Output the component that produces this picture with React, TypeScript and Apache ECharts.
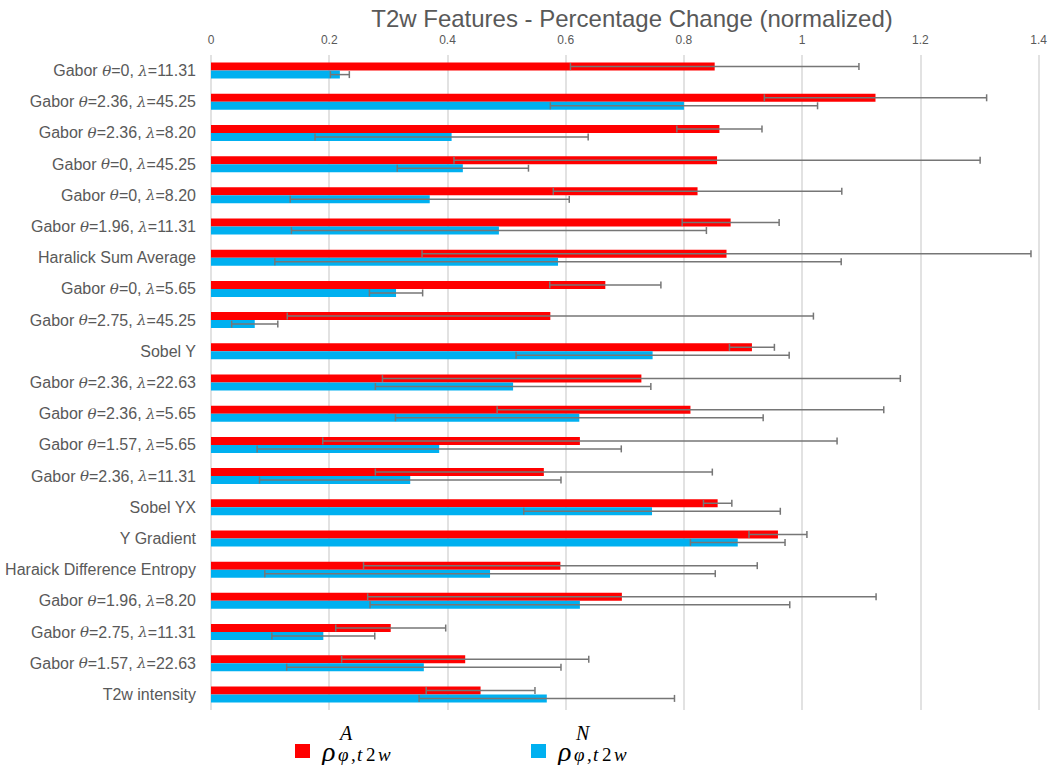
import React, { useEffect, useRef } from "react";
import * as echarts from "echarts";

const categories = [
  "Gabor θ=0, λ=11.31",
  "Gabor θ=2.36, λ=45.25",
  "Gabor θ=2.36, λ=8.20",
  "Gabor θ=0, λ=45.25",
  "Gabor θ=0, λ=8.20",
  "Gabor θ=1.96, λ=11.31",
  "Haralick Sum Average",
  "Gabor θ=0, λ=5.65",
  "Gabor θ=2.75, λ=45.25",
  "Sobel Y",
  "Gabor θ=2.36, λ=22.63",
  "Gabor θ=2.36, λ=5.65",
  "Gabor θ=1.57, λ=5.65",
  "Gabor θ=2.36, λ=11.31",
  "Sobel YX",
  "Y Gradient",
  "Haraick Difference Entropy",
  "Gabor θ=1.96, λ=8.20",
  "Gabor θ=2.75, λ=11.31",
  "Gabor θ=1.57, λ=22.63",
  "T2w intensity",
];

const rhoA = [0.852, 1.124, 0.86, 0.856, 0.823, 0.879, 0.872, 0.667, 0.574, 0.915, 0.728, 0.811, 0.624, 0.563, 0.857, 0.959, 0.591, 0.695, 0.304, 0.43, 0.456];
const rhoAErr = [0.244, 0.188, 0.072, 0.445, 0.244, 0.082, 0.515, 0.094, 0.445, 0.038, 0.438, 0.327, 0.435, 0.285, 0.024, 0.049, 0.333, 0.43, 0.093, 0.209, 0.092];
const rhoN = [0.218, 0.8, 0.407, 0.426, 0.37, 0.487, 0.587, 0.313, 0.074, 0.747, 0.511, 0.623, 0.386, 0.337, 0.746, 0.891, 0.472, 0.624, 0.19, 0.36, 0.568];
const rhoNErr = [0.016, 0.226, 0.231, 0.111, 0.236, 0.351, 0.479, 0.045, 0.039, 0.231, 0.233, 0.311, 0.308, 0.255, 0.217, 0.08, 0.381, 0.355, 0.087, 0.232, 0.216];

const xTicks = { min: 0, max: 1.4, interval: 0.2 };

// legend label pieces: superscripts and subscript glyphs
const supA = "A";
const supN = "N";
const subPieces = ["φ", ",", "t", "2", "w"];

const RED = "#FF0000";
const BLUE = "#00B0F0";
const GRAY = "#595959";
const ERR = "#767676";

function errData(vals: number[], errs: number[]) {
  return vals.map((v, i) => [i, v - errs[i], v + errs[i]]);
}

function makeErrRender(offset: number) {
  return (params: any, api: any) => {
    const idx = api.value(0);
    const a = api.coord([api.value(1), idx]);
    const b = api.coord([api.value(2), idx]);
    const y = a[1] + offset;
    const cap = 3.5;
    const style = { stroke: ERR, lineWidth: 1.5 };
    return {
      type: "group",
      children: [
        { type: "line", shape: { x1: a[0], y1: y, x2: b[0], y2: y }, style },
        { type: "line", shape: { x1: a[0], y1: y - cap, x2: a[0], y2: y + cap }, style },
        { type: "line", shape: { x1: b[0], y1: y - cap, x2: b[0], y2: y + cap }, style },
      ],
    };
  };
}

function labelFmt(v: string) {
  return v.replace(/θ/g, "{i|θ}").replace(/λ/g, "{i|λ}");
}

function legendLabel(x0: number, sup: string) {
  const subX = [0, 13, 19, 28, 40];
  const els: any[] = [
    { type: "text", left: x0 + 45, top: 723, style: { text: sup, font: "italic 20px 'Liberation Serif'", fill: "#000" } },
  ];
  subPieces.forEach((p, k) => {
    els.push({
      type: "text",
      left: x0 + 43 + subX[k],
      top: 745,
      style: {
        text: p,
        font: (p === "2" || p === "," ? "" : "italic ") + "19px 'Liberation Serif'",
        fill: "#000",
      },
    });
  });
  return els;
}

export default function App() {
  const ref = useRef<HTMLDivElement>(null);
  useEffect(() => {
    if (!ref.current) return;
    const chart = echarts.init(ref.current, undefined, { renderer: "svg" });
    const legendBase = {
      icon: "rect",
      itemWidth: 15,
      itemHeight: 14,
      top: 737,
      itemGap: 0,
      padding: 0,
      selectedMode: false,
      formatter: () => "ρ",
      textStyle: {
        fontFamily: "Liberation Serif",
        fontStyle: "italic",
        fontSize: 28,
        lineHeight: 28,
        color: "#000",
        padding: [0, 0, 0, 7],
      },
    };
    chart.setOption({
      animation: false,
      title: {
        text: "T2w Features - Percentage Change (normalized)",
        left: 627,
        textAlign: "center",
        top: 1,
        textStyle: {
          fontFamily: "Liberation Sans",
          fontWeight: "normal",
          fontSize: 24,
          color: GRAY,
        },
      },
      grid: { left: 211, right: 10, top: 55, bottom: 55 },
      legend: [
        { ...legendBase, data: ["rhoA"], left: 295 },
        { ...legendBase, data: ["rhoN"], left: 531 },
      ],
      xAxis: {
        type: "value",
        position: "top",
        min: xTicks.min,
        max: xTicks.max,
        interval: xTicks.interval,
        axisLine: { show: false },
        axisTick: { show: false },
        axisLabel: {
          color: GRAY,
          fontSize: 12,
          fontFamily: "Liberation Sans",
          margin: 9,
        },
        splitLine: { show: true, lineStyle: { color: "#D9D9D9", width: 1.5 } },
      },
      yAxis: {
        type: "category",
        data: categories,
        inverse: true,
        axisLine: { show: false },
        axisTick: { show: false },
        axisLabel: {
          margin: 15,
          color: GRAY,
          fontSize: 16,
          fontFamily: "Liberation Sans",
          formatter: labelFmt,
          rich: {
            i: {
              fontFamily: "DejaVu Serif",
              fontStyle: "italic",
              fontSize: 15,
              color: GRAY,
            },
          },
        },
      },
      series: [
        {
          name: "rhoA",
          type: "bar",
          data: rhoA,
          barWidth: 8,
          barGap: "0%",
          itemStyle: { color: RED },
        },
        {
          name: "rhoN",
          type: "bar",
          data: rhoN,
          barWidth: 8,
          barGap: "0%",
          itemStyle: { color: BLUE },
        },
        {
          name: "errA",
          type: "custom",
          data: errData(rhoA, rhoAErr),
          encode: { x: [1, 2], y: 0 },
          renderItem: makeErrRender(-4),
          z: 5,
          clip: false,
        },
        {
          name: "errN",
          type: "custom",
          data: errData(rhoN, rhoNErr),
          encode: { x: [1, 2], y: 0 },
          renderItem: makeErrRender(4),
          z: 5,
          clip: false,
        },
      ],
      graphic: [...legendLabel(295, supA), ...legendLabel(531, supN)],
    });
    return () => chart.dispose();
  }, []);
  return <div ref={ref} style={{ width: 1050, height: 765, position: "absolute", left: 0, top: 0 }} />;
}
